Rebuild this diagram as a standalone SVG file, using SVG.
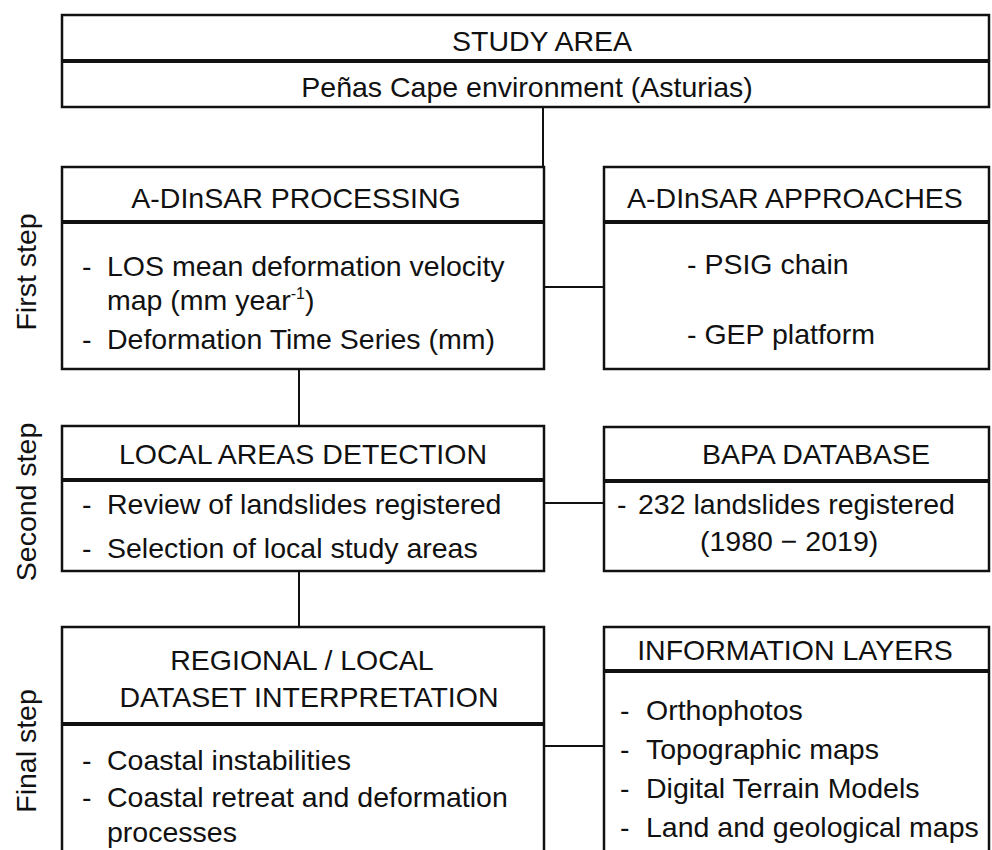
<svg xmlns="http://www.w3.org/2000/svg" width="992" height="850" viewBox="0 0 992 850">
<style>
text{font-family:"Liberation Sans",Arial,sans-serif;font-size:28.5px;fill:#111}
.c{text-anchor:middle}
.box{fill:#fff;stroke:#111;stroke-width:2.5}
.div{stroke:#111;stroke-width:4}
.con{stroke:#111;stroke-width:2;fill:none}
</style>
<rect width="992" height="850" fill="#fff"/>
<g id="connectors">
<line class="con" x1="543" y1="107" x2="543" y2="168"/>
<line class="con" x1="544" y1="287" x2="604" y2="287"/>
<line class="con" x1="299" y1="369" x2="299" y2="427"/>
<line class="con" x1="544" y1="503" x2="604" y2="503"/>
<line class="con" x1="299" y1="571" x2="299" y2="628"/>
<line class="con" x1="544" y1="746" x2="604" y2="746"/>
</g>
<g id="study-area">
<rect class="box" x="62" y="15" width="927" height="92"/>
<line class="div" x1="62" y1="61" x2="989" y2="61"/>
<text class="c" x="542" y="51">STUDY AREA</text>
<text class="c" x="527" y="97">Peñas Cape environment (Asturias)</text>
</g>
<g id="adinsar-processing">
<rect class="box" x="62" y="167" width="482" height="202"/>
<line class="div" x1="62" y1="222" x2="544" y2="222"/>
<text class="c" x="296" y="208">A-DInSAR PROCESSING</text>
<text x="82" y="276">-</text><text x="107" y="276">LOS mean deformation velocity</text>
<text x="107" y="310">map (mm year<tspan font-size="16" dy="-11">-1</tspan><tspan dy="11">)</tspan></text>
<text x="82" y="349">-</text><text x="107" y="349">Deformation Time Series (mm)</text>
</g>
<g id="adinsar-approaches">
<rect class="box" x="604" y="167" width="385" height="202"/>
<line class="div" x1="604" y1="222" x2="989" y2="222"/>
<text class="c" x="795" y="208">A-DInSAR APPROACHES</text>
<text x="687" y="274">- PSIG chain</text>
<text x="687" y="344">- GEP platform</text>
</g>
<g id="local-areas">
<rect class="box" x="62" y="426" width="482" height="145"/>
<line class="div" x1="62" y1="480" x2="544" y2="480"/>
<text class="c" x="303" y="464">LOCAL AREAS DETECTION</text>
<text x="82" y="514">-</text><text x="107" y="514">Review of landslides registered</text>
<text x="82" y="558">-</text><text x="107" y="558">Selection of local study areas</text>
</g>
<g id="bapa">
<rect class="box" x="604" y="427" width="385" height="144"/>
<line class="div" x1="604" y1="481" x2="989" y2="481"/>
<text class="c" x="816" y="464">BAPA DATABASE</text>
<text x="617" y="514">-</text><text x="638" y="514">232 landslides registered</text>
<text x="700" y="551">(1980 − 2019)</text>
</g>
<g id="regional-local">
<rect class="box" x="62" y="627" width="482" height="240"/>
<line class="div" x1="62" y1="724" x2="544" y2="724"/>
<text class="c" x="302" y="670">REGIONAL / LOCAL</text>
<text class="c" x="309" y="707">DATASET INTERPRETATION</text>
<text x="82" y="770">-</text><text x="107" y="770">Coastal instabilities</text>
<text x="82" y="807">-</text><text x="107" y="807">Coastal retreat and deformation</text>
<text x="107" y="842">processes</text>
</g>
<g id="information-layers">
<rect class="box" x="604" y="627" width="385" height="240"/>
<line class="div" x1="604" y1="671" x2="989" y2="671"/>
<text class="c" x="795" y="660">INFORMATION LAYERS</text>
<text x="620" y="720">-</text><text x="646" y="720">Orthophotos</text>
<text x="620" y="759">-</text><text x="646" y="759">Topographic maps</text>
<text x="620" y="798">-</text><text x="646" y="798">Digital Terrain Models</text>
<text x="620" y="837">-</text><text x="646" y="837">Land and geological maps</text>
</g>
<g id="step-labels">
<text class="c" transform="translate(36,272) rotate(-90)">First step</text>
<text class="c" transform="translate(36,502) rotate(-90)">Second step</text>
<text class="c" transform="translate(36,751) rotate(-90)">Final step</text>
</g>
</svg>
